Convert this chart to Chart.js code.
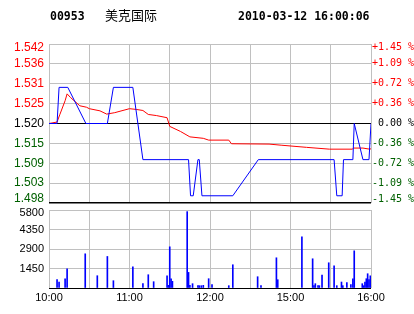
<!DOCTYPE html>
<html>
<head>
<meta charset="utf-8">
<script src="https://cdn.jsdelivr.net/npm/chart.js@4.4.0/dist/chart.umd.min.js"></script>
<style>
body{margin:0;background:#fff}
#wrap{position:relative;width:414px;height:314px}
canvas{position:absolute;left:0;top:0}
</style>
</head>
<body>
<div id="wrap">
  <canvas id="vol" width="414" height="314"></canvas>
  <canvas id="price" width="414" height="314"></canvas>
</div>
<script>
// header
const stockCode = '00953'
const stockName = '美克国际'
const stampText = '2010-03-12 16:00:06'

// axis labels (minutes from open: 0=10:00 ... 120=12:00, 150=14:30, 240=16:00)
const timeLabels = ['10:00','','11:00','','12:00','','15:00','','16:00']
const priceTicks = [1.498,1.5035,1.509,1.5145,1.520,1.5255,1.531,1.5365,1.542]
const priceLabels = ['1.498','1.503','1.509','1.515','1.520','1.525','1.531','1.536','1.542']
const pctTicks = [-1.45,-1.0875,-0.725,-0.3625,0,0.3625,0.725,1.0875,1.45]
const pctLabels = ['-1.45 %','-1.09 %','-0.72 %','-0.36 %',' 0.00 %','+0.36 %','+0.72 %','+1.09 %','+1.45 %']
const volTicks = [0,1450,2900,4350,5800]
const volLabels = ['','1450','2900','4350','5800']

// last price (blue)
const priceTime = [0,6,7.5,14,27.5,43.5,48,62.5,70,104,105.5,107.5,111,112,114,137,156,212.5,214.5,218.5,219.5,226.5,227.5,234,238.5,240]
const price = [1.520,1.520,1.530,1.530,1.520,1.520,1.530,1.530,1.510,1.510,1.500,1.500,1.510,1.510,1.500,1.500,1.510,1.510,1.500,1.500,1.510,1.510,1.520,1.510,1.510,1.520]

// average price (red)
const avgTime = [0,6,8,12,13.5,16,23,28,30,38,43,49,60,65,70,74,80,88,90,98,105,115,119,134,136,164,173,192,209,226,227,234,239,240]
const avgPrice = [1.5200,1.5204,1.5224,1.5263,1.5282,1.5272,1.5249,1.5245,1.5241,1.5235,1.5226,1.5230,1.5241,1.5239,1.5236,1.5225,1.5222,1.5216,1.5192,1.5178,1.5163,1.5159,1.5154,1.5154,1.5144,1.5143,1.5140,1.5134,1.5129,1.5129,1.5132,1.5132,1.5129,1.5130]

// volume
const volTime = [6,7.5,12,13.5,27,36,43.5,48,62.5,70,74,78,88,89,90,91,92,103,104,105,107,111,112,113.5,115,119,121.5,134,137,155.5,158,169.5,170.5,188.5,196.5,197.5,198.5,200.5,201.5,203.5,208.5,212.5,214.5,218,219,222,225,226.5,227.5,233.5,234.5,235.5,236.5,237.5,238.5,239.5,240]
const volume = [617,444,691,1432,2543,913,2345,543,1580,321,987,469,913,198,3062,691,494,5679,1160,198,321,173,173,173,198,691,247,173,1728,839,173,2247,617,3802,2173,173,321,173,173,963,1876,1654,173,444,173,395,247,691,2765,321,173,444,691,1062,617,913,444]

const UP = '#ff0000'
const DOWN = '#006000'
const FLAT = '#000000'
const GRID = '#c0c0c0'

function sideColor(ctx){
  if (ctx.index > 4) return UP
  if (ctx.index < 4) return DOWN
  return FLAT
}

const headerPlugin = {
  id: 'header',
  afterDraw(chart){
    const c = chart.ctx
    c.save()
    c.fillStyle = '#000'
    c.textBaseline = 'alphabetic'
    c.font = 'bold 11.5px "DejaVu Sans Mono"'
    c.fillText(stockCode, 50, 20)
    c.fillText(stampText, 238, 20)
    c.font = '13px "Noto Sans CJK SC"'
    c.fillText(stockName, 105, 20)
    c.restore()
  }
}

new Chart(document.getElementById('price').getContext('2d'), {
  type: 'line',
  data: {
    datasets: [{
      data: priceTime.map((t,i) => ({x:t, y:price[i]})),
      borderColor: '#0000ff',
      borderWidth: 1,
      pointRadius: 0,
      tension: 0,
      yAxisID: 'y'
    },{
      data: avgTime.map((t,i) => ({x:t, y:avgPrice[i]})),
      borderColor: '#ff0000',
      borderWidth: 1,
      pointRadius: 0,
      tension: 0,
      yAxisID: 'y'
    }]
  },
  options: {
    responsive: false,
    animation: false,
    events: [],
    layout: {padding: {top:44, bottom:111, left:0, right:0}},
    plugins: {legend:{display:false}, tooltip:{enabled:false}},
    scales: {
      x: {
        type: 'linear', min: 0, max: 240,
        ticks: {display:false, stepSize:30},
        grid: {color:GRID, lineWidth:1, drawTicks:false},
        border: {display:false},
        afterFit: s => { s.height = 0 }
      },
      y: {
        position: 'left', min: 1.498, max: 1.542,
        afterBuildTicks: s => { s.ticks = priceTicks.map(v => ({value:v})) },
        ticks: {
          autoSkip: false, padding: 5, color: sideColor,
          font: {family:'"Liberation Sans"', size:12, lineHeight:0.667},
          callback: (v,i) => i === 8 ? ['', priceLabels[i]] : i === 0 ? [priceLabels[i], ''] : priceLabels[i]
        },
        grid: {
          drawTicks: false,
          color: ctx => (ctx.index === 0 || ctx.index === 4) ? '#000' : GRID,
          lineWidth: ctx => ctx.index === 0 ? 1.5 : 1
        },
        border: {display:false},
        afterFit: s => { s.width = 49 }
      },
      y2: {
        position: 'right', min: -1.45, max: 1.45,
        afterBuildTicks: s => { s.ticks = pctTicks.map(v => ({value:v})) },
        ticks: {
          autoSkip: false, padding: 1, color: sideColor,
          font: {family:'"DejaVu Sans Mono"', size:10, lineHeight:0.75},
          callback: (v,i) => i === 8 ? ['', pctLabels[i]] : i === 0 ? [pctLabels[i], ''] : pctLabels[i]
        },
        grid: {display:false, drawTicks:false},
        border: {display:false},
        afterFit: s => { s.width = 43 }
      }
    }
  },
  plugins: [headerPlugin]
})

new Chart(document.getElementById('vol').getContext('2d'), {
  type: 'bar',
  data: {
    datasets: [{
      data: volTime.map((t,i) => ({x:t, y:volume[i]})),
      backgroundColor: '#0000ff',
      borderWidth: 0,
      barThickness: 1
    }]
  },
  options: {
    responsive: false,
    animation: false,
    events: [],
    layout: {padding: {top:210, bottom:0, left:0, right:43}},
    plugins: {legend:{display:false}, tooltip:{enabled:false}},
    scales: {
      x: {
        type: 'linear', min: 0, max: 240, offset: false,
        ticks: {
          stepSize: 30, autoSkip: false, maxRotation: 0, padding: 3, color: '#000',
          font: {family:'"Liberation Sans"', size:11},
          callback: (v,i) => timeLabels[i]
        },
        grid: {color:GRID, lineWidth:1, drawTicks:false, offset:false},
        border: {display:false},
        afterFit: s => { s.height = 26 }
      },
      y: {
        min: 0, max: 5800,
        afterBuildTicks: s => { s.ticks = volTicks.map(v => ({value:v})) },
        ticks: {
          autoSkip: false, padding: 5, color: '#000',
          font: {family:'"Liberation Sans"', size:11, lineHeight:0.45},
          callback: (v,i) => i === 4 ? ['', volLabels[i]] : volLabels[i]
        },
        grid: {
          drawTicks: false,
          color: ctx => ctx.index === 0 ? '#000' : GRID
        },
        border: {display:false},
        afterFit: s => { s.width = 49 }
      }
    }
  }
})
</script>
</body>
</html>
